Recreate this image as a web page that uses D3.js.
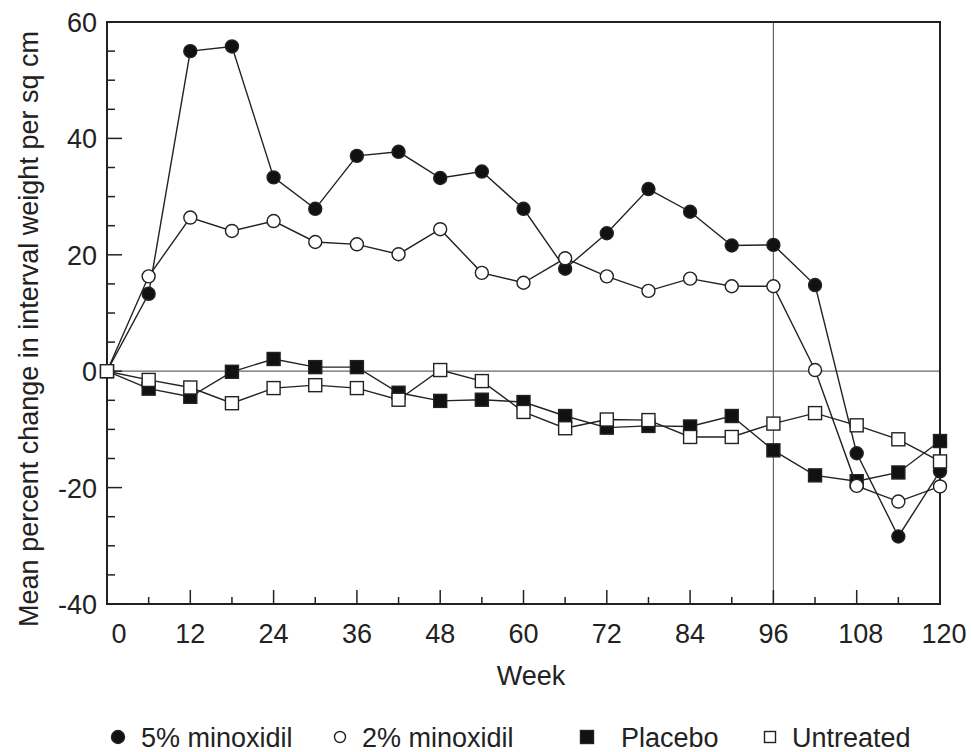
<!DOCTYPE html>
<html>
<head>
<meta charset="utf-8">
<script src="https://cdn.jsdelivr.net/npm/d3@7"></script>
<style>
  body { margin: 0; background: #fff; }
  text { font-family: "Liberation Sans", Arial, sans-serif; fill: #222; }
</style>
</head>
<body>
<svg width="972" height="752"></svg>
<script>
// data
var weeks = [0, 6, 12, 18, 24, 30, 36, 42, 48, 54, 60, 66, 72, 78, 84, 90, 96, 102, 108, 114, 120];
var minox5 = [0, 13.3, 55.0, 55.8, 33.3, 27.9, 37.0, 37.7, 33.2, 34.3, 27.9, 17.6, 23.7, 31.3, 27.4, 21.6, 21.7, 14.8, -14.1, -28.4, -17.2];
var minox2 = [0, 16.3, 26.4, 24.1, 25.8, 22.2, 21.8, 20.1, 24.4, 16.9, 15.2, 19.4, 16.3, 13.8, 15.9, 14.6, 14.6, 0.2, -19.7, -22.4, -19.8];
var placebo = [0, -3.0, -4.4, -0.1, 2.1, 0.7, 0.7, -3.7, -5.1, -4.9, -5.3, -7.7, -9.7, -9.4, -9.5, -7.7, -13.6, -17.9, -18.9, -17.4, -12.0];
var untreated = [0, -1.5, -2.8, -5.5, -2.9, -2.4, -2.9, -4.9, 0.2, -1.7, -7.0, -9.8, -8.3, -8.4, -11.3, -11.3, -9.0, -7.2, -9.3, -11.7, -15.5];
var xTicks = [0, 12, 24, 36, 48, 60, 72, 84, 96, 108, 120];
var yTicks = [-40, -20, 0, 20, 40, 60];

var svg = d3.select("svg");
var plotLeft = 107, plotRight = 940, plotTop = 22, plotBottom = 604;

var x = d3.scaleLinear().domain([0, 120]).range([plotLeft, plotRight]);
var y = d3.scaleLinear().domain([-40, 60]).range([plotBottom, plotTop]);

// reference lines
svg.append("line")
  .attr("x1", plotLeft).attr("x2", plotRight)
  .attr("y1", y(0)).attr("y2", y(0))
  .attr("stroke", "#666").attr("stroke-width", 1.2);
svg.append("line")
  .attr("x1", x(96)).attr("x2", x(96))
  .attr("y1", plotTop).attr("y2", plotBottom)
  .attr("stroke", "#666").attr("stroke-width", 1.2);

// frame
svg.append("rect")
  .attr("x", plotLeft).attr("y", plotTop)
  .attr("width", plotRight - plotLeft).attr("height", plotBottom - plotTop)
  .attr("fill", "none").attr("stroke", "#222").attr("stroke-width", 2);

// x ticks: inside, major every 12, minor every 6
var xAxis = svg.append("g");
d3.range(0, 121, 6).forEach(function(w) {
  var len = (w % 12 == 0) ? 14 : 7;
  xAxis.append("line")
    .attr("x1", x(w)).attr("x2", x(w))
    .attr("y1", plotBottom).attr("y2", plotBottom - len)
    .attr("stroke", "#222").attr("stroke-width", 1.5);
});
xAxis.selectAll("text.tick")
    .data(xTicks)
  .enter().append("text")
    .attr("x", function(d) { return x(d) + (d == 0 ? 12 : (d >= 108 ? 4 : 0)); })
    .attr("y", 643)
    .attr("text-anchor", "middle")
    .style("font-size", "27px")
    .text(function(d) { return d; });

// y ticks: inside, major every 20, minor every 5
var yAxis = svg.append("g");
d3.range(-40, 61, 5).forEach(function(v) {
  var len = (v % 20 == 0) ? 15 : 8;
  yAxis.append("line")
    .attr("x1", plotLeft).attr("x2", plotLeft + len)
    .attr("y1", y(v)).attr("y2", y(v))
    .attr("stroke", "#222").attr("stroke-width", 1.5);
});
yAxis.selectAll("text.tick")
    .data(yTicks)
  .enter().append("text")
    .attr("x", 97)
    .attr("y", function(d) { return y(d) + 10; })
    .attr("text-anchor", "end")
    .style("font-size", "27px")
    .text(function(d) { return d; });

// axis titles
svg.append("text")
  .attr("x", 531).attr("y", 685)
  .attr("text-anchor", "middle")
  .style("font-size", "27px")
  .text("Week");
svg.append("text")
  .attr("transform", "translate(38,329) rotate(-90)")
  .attr("text-anchor", "middle")
  .style("font-size", "27px")
  .text("Mean percent change in interval weight per sq cm");

// series
var series = [
  {name: "5% minoxidil", values: minox5, shape: "circle", fill: "#111"},
  {name: "Placebo", values: placebo, shape: "square", fill: "#111"},
  {name: "2% minoxidil", values: minox2, shape: "circle", fill: "#fff"},
  {name: "Untreated", values: untreated, shape: "square", fill: "#fff"}
];

var line = d3.line()
  .x(function(d) { return x(d.w); })
  .y(function(d) { return y(d.v); });

function drawMarker(g, shape, fill, cx, cy, size) {
  if (shape == "circle") {
    g.append("circle")
      .attr("cx", cx).attr("cy", cy).attr("r", size / 2)
      .attr("fill", fill).attr("stroke", "#222").attr("stroke-width", 1.4);
  } else {
    g.append("rect")
      .attr("x", cx - size / 2).attr("y", cy - size / 2)
      .attr("width", size).attr("height", size)
      .attr("fill", fill).attr("stroke", "#222").attr("stroke-width", 1.4);
  }
}

series.forEach(function(s) {
  var pts = weeks.map(function(w, i) { return {w: w, v: s.values[i]}; });
  var g = svg.append("g");
  g.append("path")
    .attr("d", line(pts))
    .attr("fill", "none")
    .attr("stroke", "#222")
    .attr("stroke-width", 1.4);
  pts.forEach(function(p) {
    drawMarker(g, s.shape, s.fill, x(p.w), y(p.v), 13);
  });
});

// legend
var legend = svg.append("g");
var legendItems = [
  {name: "5% minoxidil", shape: "circle", fill: "#111", mx: 118, tx: 141, size: 13},
  {name: "2% minoxidil", shape: "circle", fill: "#fff", mx: 340, tx: 362, size: 11},
  {name: "Placebo", shape: "square", fill: "#111", mx: 587, tx: 621, size: 13},
  {name: "Untreated", shape: "square", fill: "#fff", mx: 770, tx: 792, size: 11}
];
legendItems.forEach(function(d) {
  drawMarker(legend, d.shape, d.fill, d.mx, 737, d.size);
  legend.append("text")
    .attr("x", d.tx).attr("y", 747)
    .style("font-size", "27px")
    .text(d.name);
});
</script>
</body>
</html>
